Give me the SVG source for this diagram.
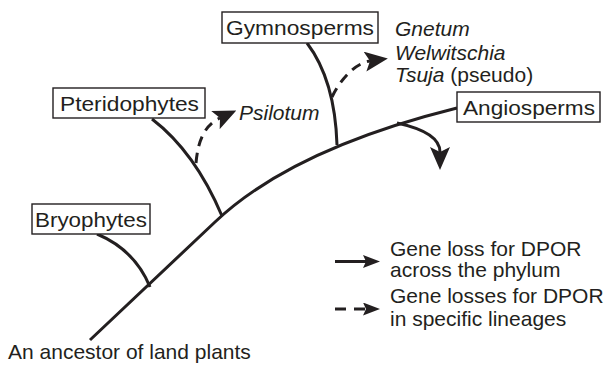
<svg xmlns="http://www.w3.org/2000/svg" width="608" height="367" viewBox="0 0 608 367">
<style>
text{font-family:"Liberation Sans",Arial,sans-serif;font-size:21px;fill:#231f20}
.it{font-style:italic}
.box{fill:#fff;stroke:#231f20;stroke-width:1.4}
.ln{fill:none;stroke:#231f20;stroke-width:3}
.ds{fill:none;stroke:#231f20;stroke-width:3;stroke-dasharray:10 7}
</style>
<defs>
<marker id="arr" markerUnits="userSpaceOnUse" viewBox="0 0 23 20" refX="5" refY="10" markerWidth="23" markerHeight="20" orient="auto">
<path d="M0,0 L23,10 L0,20 L5,10 Z" fill="#231f20"/>
</marker>
<marker id="arrS" markerUnits="userSpaceOnUse" viewBox="0 0 17 13" refX="3" refY="6.5" markerWidth="17" markerHeight="13" orient="auto">
<path d="M0,0 L17,6.5 L0,13 L3,6.5 Z" fill="#231f20"/>
</marker>
</defs>
<g id="connectors">
<path class="ln" d="M90,340 L215,222 Q292,149 457,108"/>
<path class="ln" d="M97,234 Q135,250 150,287"/>
<path class="ln" d="M152,119 Q195,152 222,216"/>
<path class="ln" d="M307,43 Q335,80 337,145"/>
<path class="ln" d="M397,123 C420,128 440,136 440,152" marker-end="url(#arr)"/>
<path class="ds" d="M196,163 C198,140 205,125 220,118" marker-end="url(#arr)"/>
<path class="ds" d="M332,97 C340,80 355,63 370,61" marker-end="url(#arr)"/>
</g>
<g id="bryophytes">
<rect class="box" x="32" y="204" width="118" height="30"/>
<text x="35" y="226.5" textLength="112" lengthAdjust="spacingAndGlyphs">Bryophytes</text>
</g>
<g id="pteridophytes">
<rect class="box" x="53" y="88" width="152" height="30"/>
<text x="60" y="110.5" textLength="139" lengthAdjust="spacingAndGlyphs">Pteridophytes</text>
</g>
<g id="gymnosperms">
<rect class="box" x="222" y="12" width="156" height="31"/>
<text x="226" y="35" textLength="148" lengthAdjust="spacingAndGlyphs">Gymnosperms</text>
</g>
<g id="angiosperms">
<rect class="box" x="457" y="92" width="143" height="30"/>
<text x="463" y="114.5" textLength="132" lengthAdjust="spacingAndGlyphs">Angiosperms</text>
</g>
<g id="psilotum">
<text class="it" x="239" y="120">Psilotum</text>
</g>
<g id="gymno-lineages">
<text class="it" x="395" y="36">Gnetum</text>
<text class="it" x="395" y="60">Welwitschia</text>
<text x="395" y="82"><tspan class="it">Tsuja</tspan> (pseudo)</text>
</g>
<g id="ancestor">
<text x="8" y="359">An ancestor of land plants</text>
</g>
<g id="legend">
<path class="ln" d="M335,261.5 L366,261.5" marker-end="url(#arrS)"/>
<path class="ln" d="M335,309 L366,309" stroke-dasharray="11 8" marker-end="url(#arrS)"/>
<text x="390" y="256">Gene loss for DPOR</text>
<text x="390" y="277">across the phylum</text>
<text x="390" y="303">Gene losses for DPOR</text>
<text x="390" y="326">in specific lineages</text>
</g>
</svg>
